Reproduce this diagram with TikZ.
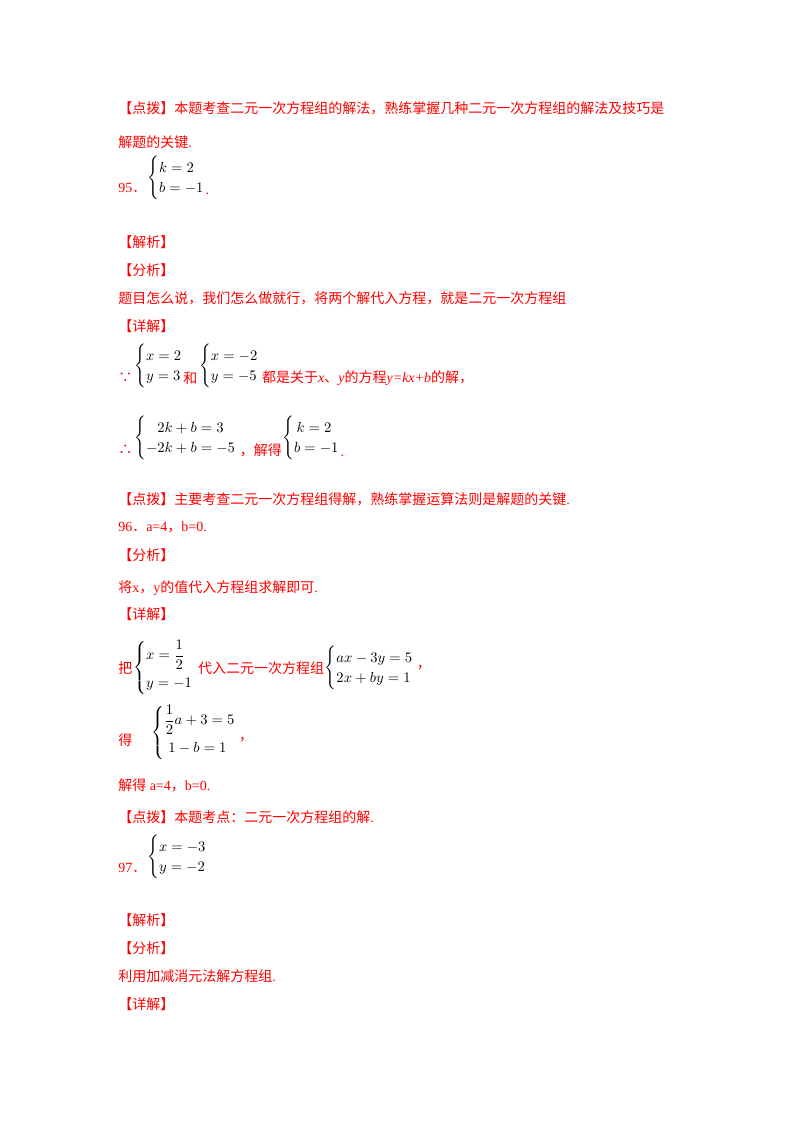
\documentclass[tikz,border=0pt]{standalone}
\usepackage{amsmath}
\usepackage{fontspec}
\setmainfont{Liberation Serif}
\newfontfamily\cjk{Noto Sans CJK SC}
\newcommand{\R}[1]{{\rmfamily #1}}
\begin{document}
\begin{tikzpicture}[x=0.75pt,y=-0.75pt,
  txt/.style={anchor=west,inner sep=0pt,text=red,font=\cjk\fontsize{10.5}{12}\selectfont},
  dotn/.style={anchor=base west,inner sep=0pt,text=red,font=\rmfamily\fontsize{10.5}{12}\selectfont},
  sys/.style={anchor=west,inner sep=0pt,text=black,font=\fontsize{10.5}{12}\selectfont}]
\useasboundingbox[fill=white] (0,0) rectangle (800,1132);
\newcommand{\sy}[2]{$\renewcommand{\arraystretch}{1.25}\left\{\begin{array}{@{}l@{}}#1\\#2\end{array}\right.$}
% 95
\node[txt] (p1) at (118,108) {【点拨】本题考查二元一次方程组的解法，熟练掌握几种二元一次方程组的解法及技巧是};
\node[txt] (p2) at (118,142) {解题的关键\R{.}};
\node[txt] (n95) at (118,188) {\R{95}．};
\node[sys] (s95) at (147,178) {\sy{k=2}{b=-1}};
\node[dotn] (d95) at ([yshift=-5]s95.east |- n95) {.};
\node[txt] (jx1) at (118,242) {【解析】};
\node[txt] (fx1) at (118,270) {【分析】};
\node[txt] (t1) at (118,298) {题目怎么说，我们怎么做就行，将两个解代入方程，就是二元一次方程组};
\node[txt] (xj1) at (118,326) {【详解】};
\node[txt] (since) at (118,378) {∵};
\node[sys] (sa) at (134,366) {\sy{x=2}{y=3}};
\node[txt] (he) at (sa.east |- since) {和};
\node[sys] (sb) at ([xshift=1pt]he.east |- sa) {\sy{x=-2}{y=-5}};
\node[txt] (t2) at ([xshift=2pt]sb.east |- since) {都是关于\R{\textit{x}}、\R{\textit{y}}的方程\R{\textit{y=kx+b}}的解，};
\node[txt] (thus) at (118,450) {∴};
\node[sys] (sc) at (134,438) {\sy{\phantom{-}2k+b=3}{-2k+b=-5}};
\node[txt] (jd) at ([xshift=2pt]sc.east |- thus) {，解得};
\node[sys] (sd) at (jd.east |- sc) {\sy{\,k=2}{b=-1}};
\node[dotn] (dd) at ([yshift=-5]sd.east |- thus) {.};
\node[txt] (p3) at (118,499) {【点拨】主要考查二元一次方程组得解，熟练掌握运算法则是解题的关键\R{.}};
% 96
\node[txt] (n96) at (118,527) {\R{96}．\R{a=4}，\R{b=0.}};
\node[txt] (fx2) at (118,555) {【分析】};
\node[txt] (t3) at (118,588) {将\R{x}，\R{y}的值代入方程组求解即可\R{.}};
\node[txt] (xj2) at (118,614) {【详解】};
\node[txt] (ba) at (118,668) {把};
\node[sys] (se) at (133,668) {$\renewcommand{\arraystretch}{1.6}\left\{\begin{array}{@{}l@{}}x=\dfrac{1}{2}\\y=-1\end{array}\right.$};
\node[txt] (dr) at ([xshift=3pt]se.east |- ba) {代入二元一次方程组};
\node[sys] (sf) at (dr.east |- ba) {\sy{ax-3y=5}{2x+by=1}};
\node[txt] (c1) at ([xshift=2pt]sf.east) {，};
\node[txt] (de) at (118,740) {得};
\node[sys] (sg) at (151,733) {$\renewcommand{\arraystretch}{1.6}\left\{\begin{array}{@{}l@{}}\dfrac{1}{2}a+3=5\\\;1-b=1\end{array}\right.$};
\node[txt] (c2) at ([xshift=2pt]sg.east |- de) {，};
\node[txt] (jd2) at (118,785) {解得\R{ a=4}，\R{b=0.}};
\node[txt] (p4) at (118,817) {【点拨】本题考点：二元一次方程组的解\R{.}};
% 97
\node[txt] (n97) at (118,868) {\R{97}．};
\node[sys] (sh) at (147,857) {\sy{x=-3}{y=-2}};
\node[txt] (jx3) at (118,920) {【解析】};
\node[txt] (fx3) at (118,948) {【分析】};
\node[txt] (t4) at (118,976) {利用加减消元法解方程组\R{.}};
\node[txt] (xj3) at (118,1004) {【详解】};
\end{tikzpicture}
\end{document}
